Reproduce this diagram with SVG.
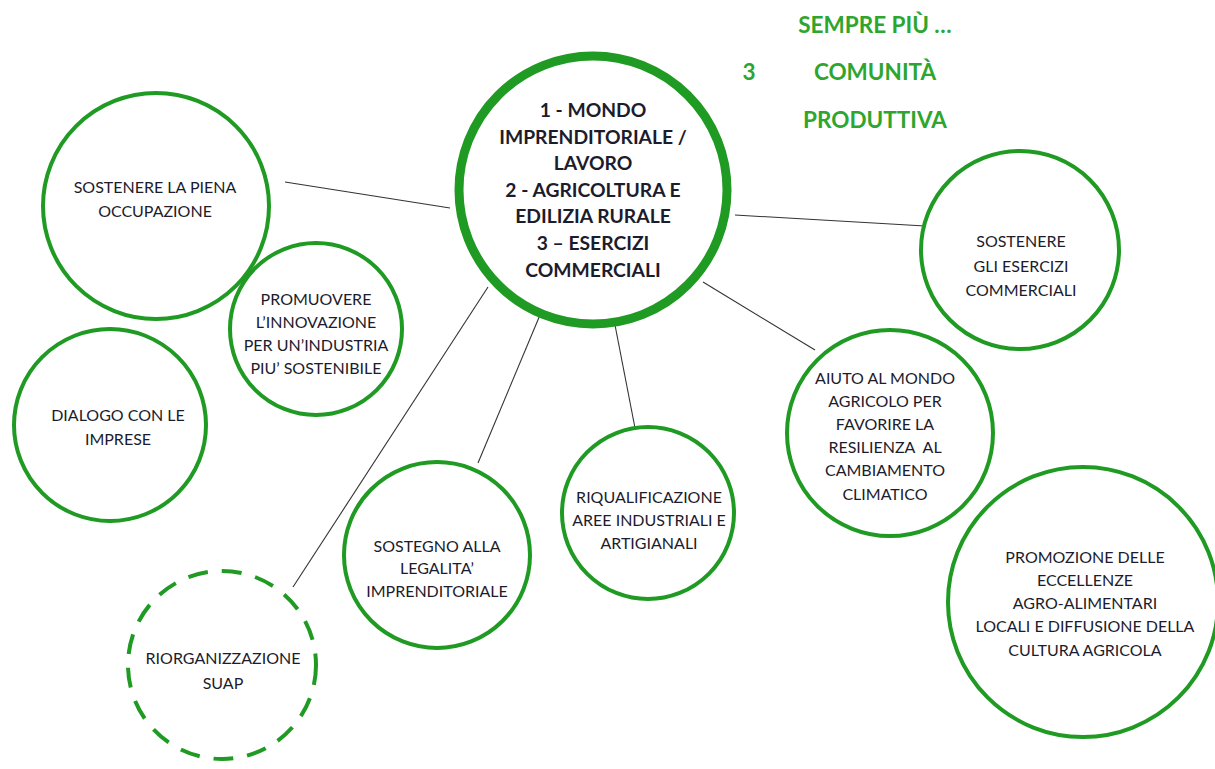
<svg xmlns="http://www.w3.org/2000/svg" width="1215" height="769" viewBox="0 0 1215 769">
<style>
.c{fill:#fff;stroke:#1f9a22;stroke-width:4}
.d{stroke-dasharray:20 14}
.m{stroke-width:9}
.t{font-family:Lato,"Liberation Sans",sans-serif;font-size:16px;fill:#1c1c2c;text-anchor:middle}
.b{font-family:Lato,"Liberation Sans",sans-serif;font-size:19.3px;font-weight:bold;fill:#1c1c2c;text-anchor:middle}
.g{font-family:Lato,"Liberation Sans",sans-serif;font-size:22.5px;font-weight:bold;fill:#2ea52e;text-anchor:middle}
.l{stroke:#333;stroke-width:1.1;fill:none}
</style>
<rect width="1215" height="769" fill="#fff"/>
<g id="title">
<text class="g" x="875" y="33">SEMPRE PIÙ …</text>
<text class="g" x="749" y="80">3</text>
<text class="g" x="875" y="80">COMUNITÀ</text>
<text class="g" x="875" y="128">PRODUTTIVA</text>
</g>
<g id="connectors">
<line class="l" x1="285" y1="182" x2="450" y2="208"/>
<line class="l" x1="735" y1="215" x2="925" y2="226"/>
<line class="l" x1="703" y1="282" x2="815" y2="350"/>
<line class="l" x1="615" y1="325" x2="635" y2="428"/>
<line class="l" x1="540" y1="315" x2="478" y2="463"/>
<line class="l" x1="488" y1="287" x2="293" y2="587"/>
</g>
<g id="n-occupazione">
<circle class="c" cx="156" cy="206" r="113"/>
<text class="t" x="155" y="193">SOSTENERE LA PIENA</text>
<text class="t" x="155" y="217">OCCUPAZIONE</text>
</g>
<g id="n-innovazione">
<circle class="c" cx="316" cy="329" r="86"/>
<text class="t" x="316" y="305">PROMUOVERE</text>
<text class="t" x="316" y="328">L’INNOVAZIONE</text>
<text class="t" x="316" y="351">PER UN’INDUSTRIA</text>
<text class="t" x="316" y="374">PIU’ SOSTENIBILE</text>
</g>
<g id="n-dialogo">
<circle class="c" cx="110" cy="425" r="96"/>
<text class="t" x="118" y="421">DIALOGO CON LE</text>
<text class="t" x="118" y="445">IMPRESE</text>
</g>
<g id="n-suap">
<circle class="c d" cx="222" cy="665" r="94"/>
<text class="t" x="223" y="664">RIORGANIZZAZIONE</text>
<text class="t" x="223" y="689">SUAP</text>
</g>
<g id="n-legalita">
<circle class="c" cx="437" cy="555" r="93"/>
<text class="t" x="437" y="552">SOSTEGNO ALLA</text>
<text class="t" x="437" y="574">LEGALITA’</text>
<text class="t" x="437" y="597">IMPRENDITORIALE</text>
</g>
<g id="n-riqualificazione">
<circle class="c" cx="648" cy="513" r="86"/>
<text class="t" x="649" y="503">RIQUALIFICAZIONE</text>
<text class="t" x="649" y="526">AREE INDUSTRIALI E</text>
<text class="t" x="649" y="549">ARTIGIANALI</text>
</g>
<g id="n-agricolo">
<circle class="c" cx="890" cy="433" r="103"/>
<text class="t" x="885" y="384">AIUTO AL MONDO</text>
<text class="t" x="885" y="407">AGRICOLO PER</text>
<text class="t" x="885" y="430">FAVORIRE LA</text>
<text class="t" x="885" y="453" xml:space="preserve">RESILIENZA  AL</text>
<text class="t" x="885" y="476">CAMBIAMENTO</text>
<text class="t" x="885" y="500">CLIMATICO</text>
</g>
<g id="n-esercizi">
<circle class="c" cx="1020" cy="250" r="99"/>
<text class="t" x="1021" y="247">SOSTENERE</text>
<text class="t" x="1021" y="272">GLI ESERCIZI</text>
<text class="t" x="1021" y="296">COMMERCIALI</text>
</g>
<g id="n-promozione">
<circle class="c" cx="1083" cy="602" r="135"/>
<text class="t" x="1085" y="563">PROMOZIONE DELLE</text>
<text class="t" x="1085" y="586">ECCELLENZE</text>
<text class="t" x="1085" y="609">AGRO-ALIMENTARI</text>
<text class="t" x="1085" y="632">LOCALI E DIFFUSIONE DELLA</text>
<text class="t" x="1085" y="656">CULTURA AGRICOLA</text>
</g>
<g id="n-center">
<circle class="c m" cx="593" cy="190" r="134"/>
<text class="b" x="593" y="117">1 - MONDO</text>
<text class="b" x="593" y="144">IMPRENDITORIALE /</text>
<text class="b" x="593" y="170">LAVORO</text>
<text class="b" x="593" y="197">2 - AGRICOLTURA E</text>
<text class="b" x="593" y="223">EDILIZIA RURALE</text>
<text class="b" x="593" y="250">3 – ESERCIZI</text>
<text class="b" x="593" y="277">COMMERCIALI</text>
</g>
</svg>
